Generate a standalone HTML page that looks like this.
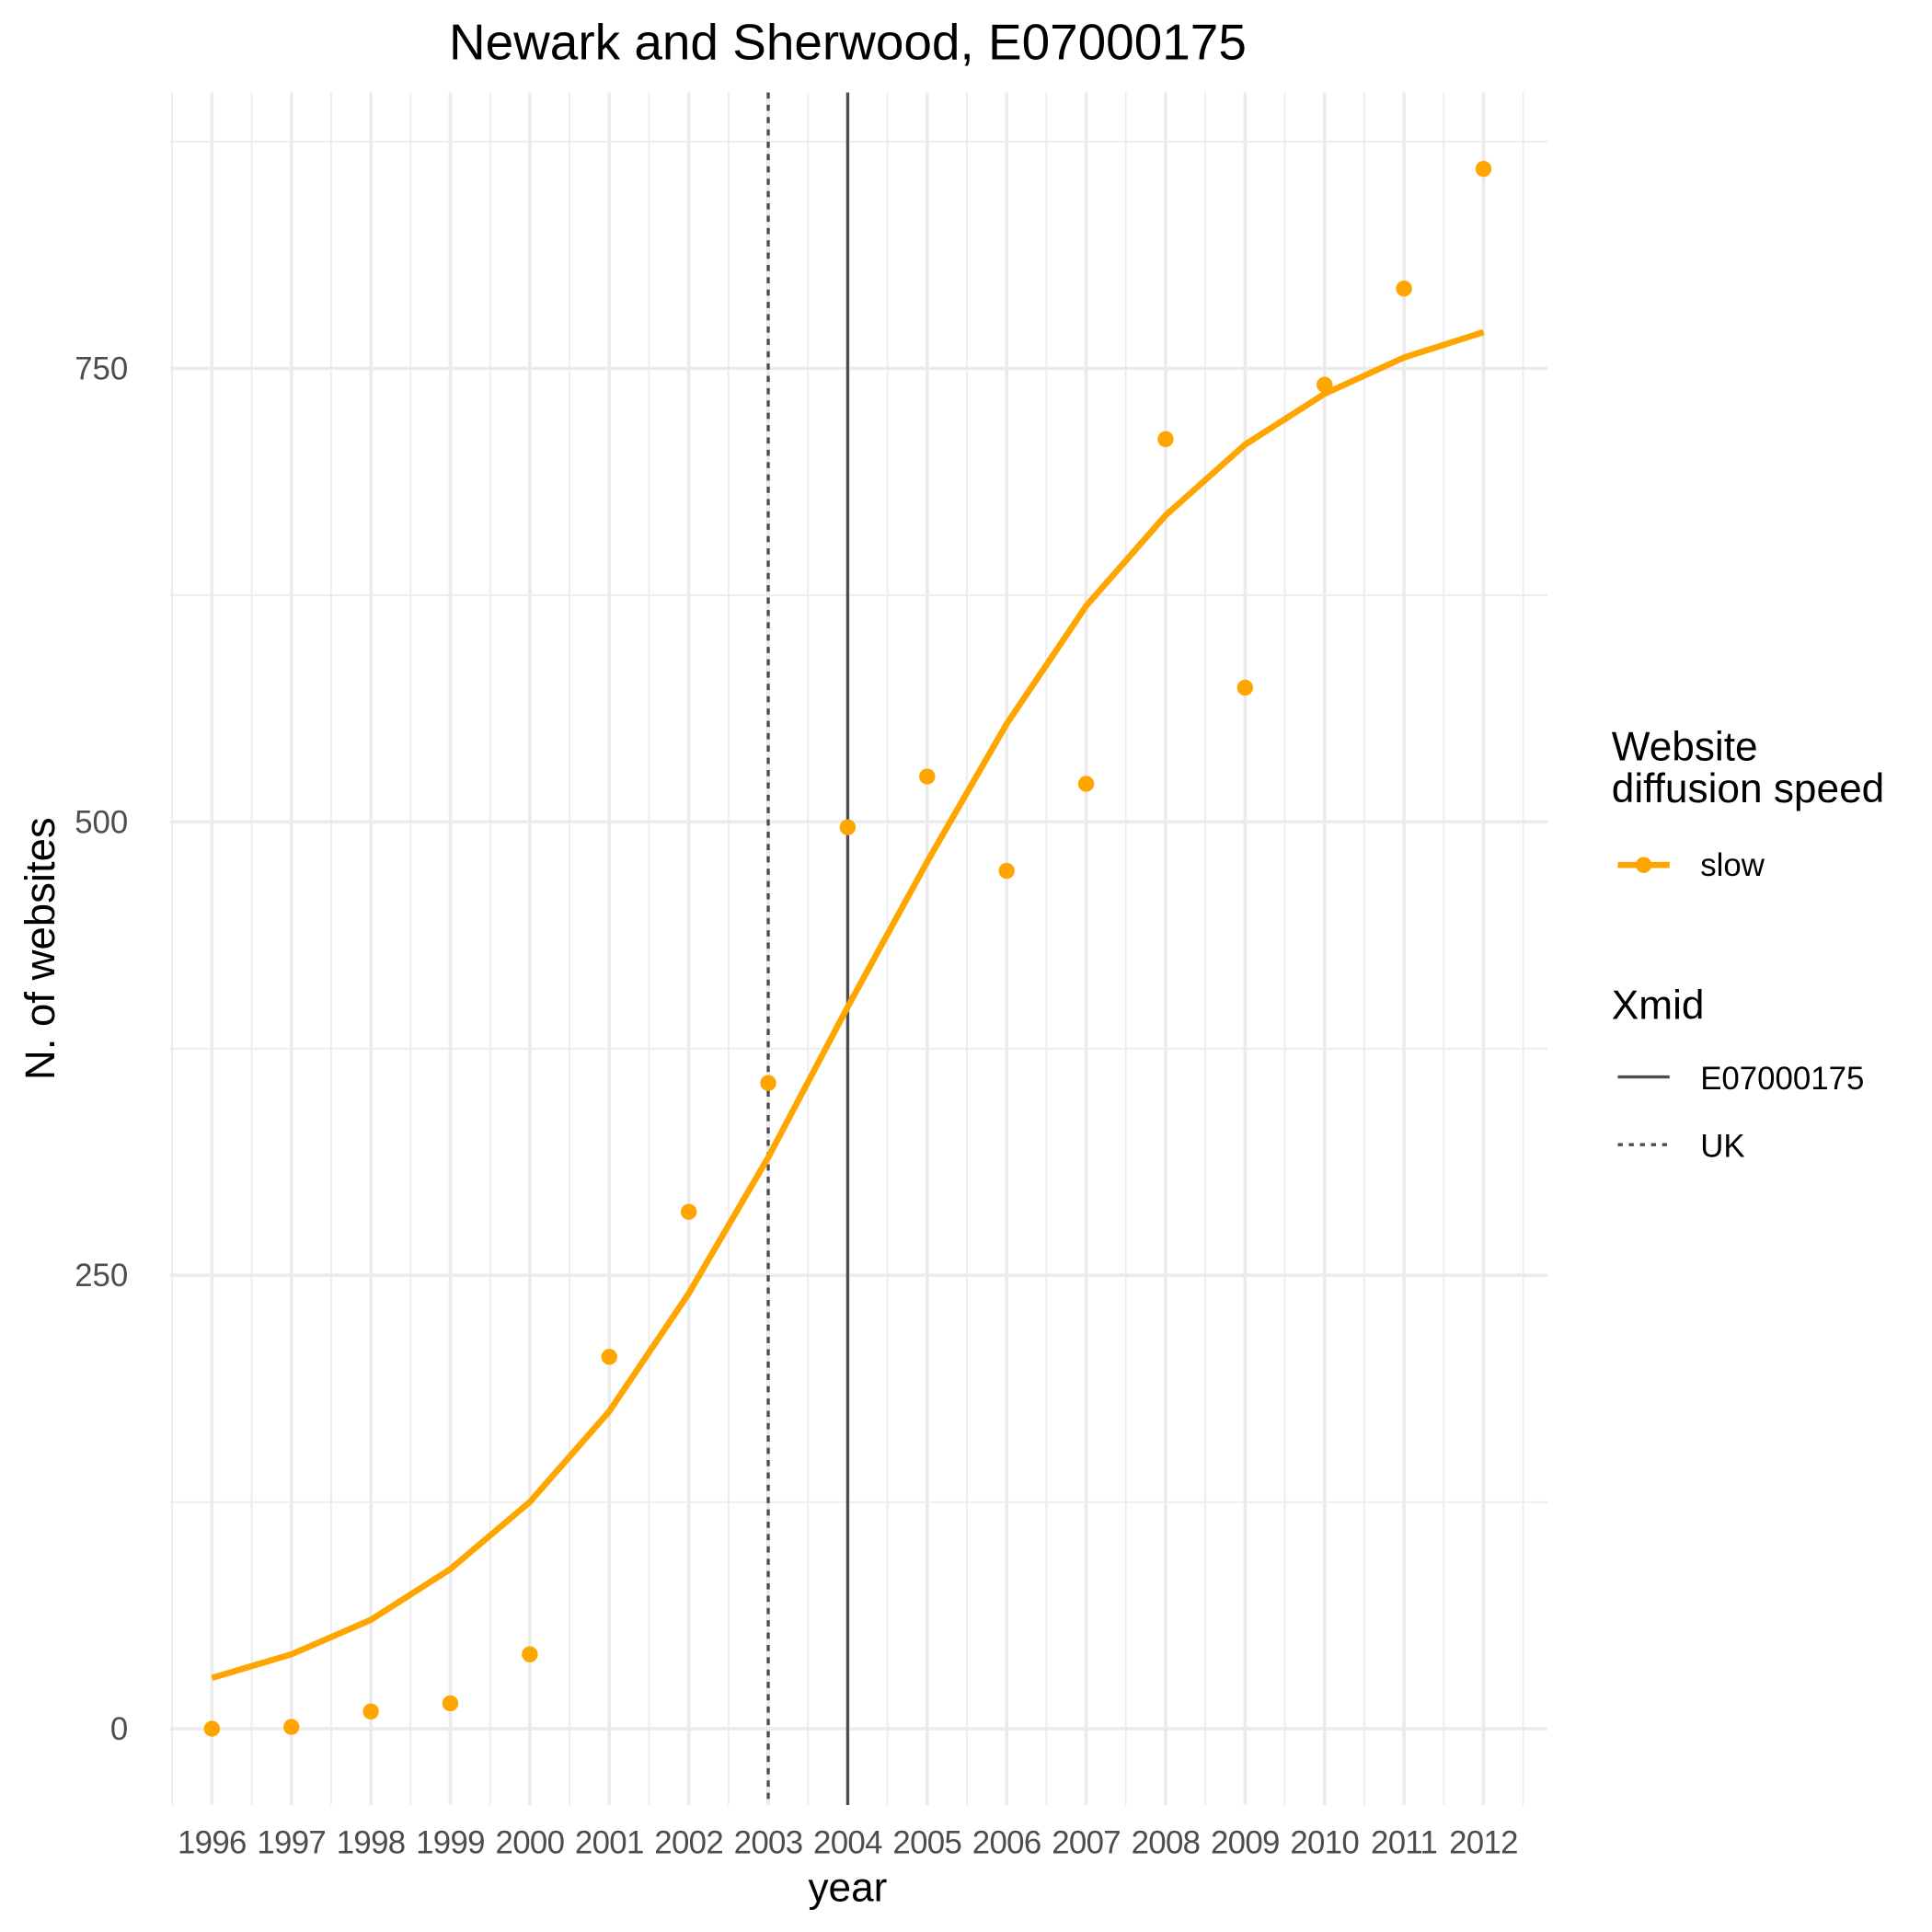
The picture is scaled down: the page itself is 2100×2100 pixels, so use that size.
<!DOCTYPE html>
<html><head><meta charset="utf-8"><style>html,body{margin:0;padding:0;background:#fff}svg{display:block}</style></head>
<body>
<svg id="chart" width="2100" height="2100" viewBox="0 0 1568 1568" xmlns="http://www.w3.org/2000/svg" font-family="Liberation Sans, sans-serif">
<g id="grid"></g>
<g id="vlines"></g>
<g id="series"></g>
<g id="axes"></g>
<text x="688" y="48" font-size="41" text-anchor="middle" fill="#000">Newark and Sherwood, E07000175</text>
<text x="688" y="1543" font-size="33" text-anchor="middle" fill="#000">year</text>
<text transform="translate(44,770) rotate(-90)" font-size="34" text-anchor="middle" fill="#000">N. of websites</text>
<g>
<text x="1308" y="617" font-size="33" fill="#000">Website</text>
<text x="1308" y="651" font-size="33" fill="#000">diffusion speed</text>
<line x1="1313" y1="702" x2="1355" y2="702" stroke="#FFA500" stroke-width="5"/>
<circle cx="1334" cy="702" r="6.5" fill="#FFA500"/>
<text x="1380" y="711" font-size="26" fill="#000">slow</text>
<text x="1308" y="827" font-size="33" fill="#000">Xmid</text>
<line x1="1313" y1="874" x2="1355" y2="874" stroke="#4d4d4d" stroke-width="2.5"/>
<text x="1380" y="884" font-size="26" fill="#000">E07000175</text>
<line x1="1313" y1="929" x2="1355" y2="929" stroke="#4d4d4d" stroke-width="2.5" stroke-dasharray="4,5"/>
<text x="1380" y="939" font-size="26" fill="#000">UK</text>
</g>
</svg>
<script>
const years = [1996,1997,1998,1999,2000,2001,2002,2003,2004,2005,2006,2007,2008,2009,2010,2011,2012];
const pointValues = [0,1,9.5,14,41,205,285,356,497,525,473,521,711,574,741,794,860];
const fittedValues = [28,41,60,88,125,175,240,315,398,478,554,619,669,708,736,756,770];
const yTicks = [0,250,500,750];
const xmidRegion = 2004;
const xmidUK = 2003;

const NS='http://www.w3.org/2000/svg';
const xScale = y => 172 + (y-1996)*64.5;
const yScale = v => 1403 - v*(368/250);
const L=138, R=1256, T=75, B=1465;
function mk(tag, attrs, parent){const e=document.createElementNS(NS,tag);for(const k in attrs)e.setAttribute(k,attrs[k]);parent.appendChild(e);return e;}
const grid=document.getElementById('grid'), vl=document.getElementById('vlines'), ser=document.getElementById('series'), axes=document.getElementById('axes');

for(let v=-125; v<=875; v+=250){const y=yScale(v); if(y<T||y>B) continue;
  const g=mk('line',{x1:L,x2:R,y1:y,y2:y,stroke:'#ebebeb','stroke-width':1.3},grid);
  
  }
for(let i=0;i<=years.length;i++){const x=xScale(years[0]-0.5+i);
  const g=mk('line',{x1:x,x2:x,y1:T,y2:B,stroke:'#ebebeb','stroke-width':1.3},grid);
  
  }
yTicks.forEach(v=>{const y=yScale(v);
  const g=mk('line',{x1:L,x2:R,y1:y,y2:y,stroke:'#ebebeb','stroke-width':2.7},grid);
  
  
  const t=mk('text',{x:104,y:y+9,'font-size':26,'text-anchor':'end',fill:'#4d4d4d'},axes);
  t.textContent=v;
  
  });
years.forEach(yr=>{const x=xScale(yr);
  const g=mk('line',{x1:x,x2:x,y1:T,y2:B,stroke:'#ebebeb','stroke-width':2.7},grid);
  
  
  const t=mk('text',{x:x,y:1504,'font-size':26,'text-anchor':'middle',fill:'#4d4d4d','letter-spacing':'-0.5'},axes);
  t.textContent=yr;
  
  });

const d1=mk('line',{x1:xScale(xmidUK),x2:xScale(xmidUK),y1:T,y2:B,stroke:'#4d4d4d','stroke-width':2.5,'stroke-dasharray':'5,5'},vl);


const d2=mk('line',{x1:xScale(xmidRegion),x2:xScale(xmidRegion),y1:T,y2:B,stroke:'#4d4d4d','stroke-width':2.5},vl);



const pts=years.map((yr,i)=>xScale(yr)+','+yScale(fittedValues[i])).join(' ');
const pl=mk('polyline',{points:pts,fill:'none',stroke:'#FFA500','stroke-width':5,'stroke-linejoin':'round'},ser);


years.forEach((yr,i)=>{
  const c=mk('circle',{cx:xScale(yr),cy:yScale(pointValues[i]),r:6.5,fill:'#FFA500'},ser);
  
  });
</script>
</body></html>
